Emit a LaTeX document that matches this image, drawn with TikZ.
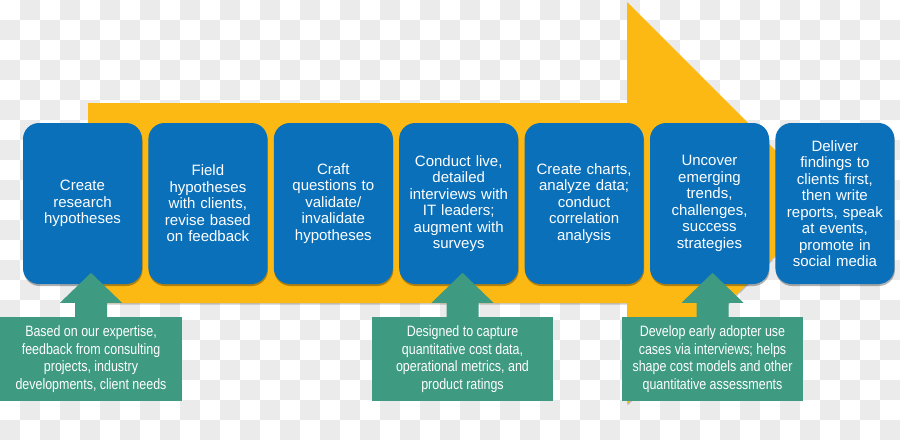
\documentclass[tikz,border=0pt]{standalone}
\usepackage{fontspec}
\setmainfont{Liberation Sans}
\newfontfamily\narrowfont[FakeStretch=0.83]{Liberation Sans}
\usetikzlibrary{shadows,calc}
\definecolor{bluebox}{RGB}{10,112,186}
\definecolor{yellowarrow}{RGB}{253,185,19}
\definecolor{greenbox}{RGB}{62,154,128}
\definecolor{checkgray}{RGB}{235,235,235}
\begin{document}
\begin{tikzpicture}[x=1pt,y=-1pt,
  stepbox/.style={fill=bluebox, rounded corners=16pt, minimum width=119pt,
    minimum height=161pt, text width=112pt, align=center, text=white,
    inner sep=0pt, font=\fontsize{15}{16.5}\selectfont,
    drop shadow={shadow xshift=0.5pt, shadow yshift=-2pt, opacity=0.3, fill=black}},
  notebox/.style={fill=greenbox, minimum height=84pt, inner sep=0pt,
    align=center, text=white, font=\narrowfont\fontsize{15}{17.6}\selectfont},
  notearrow/.style={fill=greenbox}]
\useasboundingbox (0,0) rectangle (900,440);
% transparent-style checkerboard background
\fill[white] (0,0) rectangle (900,440);
\foreach \i in {0,...,44}{\foreach \j in {0,...,21}{%
  \pgfmathtruncatemacro\s{mod(\i+\j,2)}%
  \ifnum\s=1 \fill[checkgray] (\i*20,\j*20) rectangle ++(20,20);\fi}}
% big yellow arrow
\fill[yellowarrow, drop shadow={shadow xshift=0.5pt, shadow yshift=-1.5pt, opacity=0.2, fill=black}]
  (88,103) -- (627,103) -- (627,2) -- (828,203) -- (627,404) -- (627,303) -- (88,303) -- cycle;
% steps
\node[stepbox] (s1) at (82.5,203.5) {Create\\research\\hypotheses};
\node[stepbox] (s2) at (207.9,203.5) {Field\\hypotheses\\with clients,\\revise based\\on feedback};
\node[stepbox] (s3) at (333.3,203.5) {Craft\\questions to\\validate/\\invalidate\\hypotheses};
\node[stepbox] (s4) at (458.7,203.5) {Conduct live,\\detailed\\interviews with\\IT leaders;\\augment with\\surveys};
\node[stepbox] (s5) at (584.1,203.5) {Create charts,\\analyze data;\\conduct\\correlation\\analysis};
\node[stepbox] (s6) at (709.5,203.5) {Uncover\\emerging\\trends,\\challenges,\\success\\strategies};
\node[stepbox] (s7) at (834.9,203.5) {Deliver\\findings to\\clients first,\\then write\\reports, speak\\at events,\\promote in\\social media};
% notes
\node[notebox, minimum width=182pt] (n1) at (91,359) {Based on our expertise,\\feedback from consulting\\projects, industry\\developments, client needs};
\node[notebox, minimum width=181pt] (n2) at (462.5,359) {Designed to capture\\quantitative cost data,\\operational metrics, and\\product ratings};
\node[notebox, minimum width=181pt] (n3) at (712.5,359) {Develop early adopter use\\cases via interviews; helps\\shape cost models and other\\quantitative assessments};
% note arrows
\foreach \n in {n1,n2,n3}{
  \fill[notearrow] ($(\n.north)+(-16,1)$) -- ++(0,-15) -- ++(-15,0) -- ++(31,-30)
    -- ++(31,30) -- ++(-15,0) -- ++(0,15) -- cycle;}
\end{tikzpicture}
\end{document}
